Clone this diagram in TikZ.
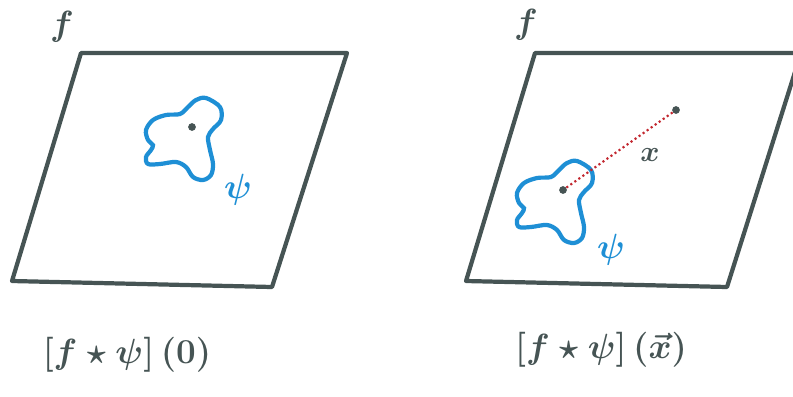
\documentclass[tikz,border=0pt]{standalone}
\usepackage{amsmath,amssymb}
\usepackage{xcolor}
\usetikzlibrary{positioning, calc}

\definecolor{slate}{HTML}{465454}
\definecolor{kernblue}{HTML}{1E8FD5}
\definecolor{pathred}{HTML}{C2262E}

\begin{document}
\begin{tikzpicture}[
    x=0.025cm, y=-0.025cm,
    plane/.style={draw=slate, line width=3pt, line join=round},
    blob/.style={draw=kernblue, line width=3pt},
    pt/.style={circle, fill=slate, inner sep=0pt, minimum size=5.5pt},
    lbl/.style={text=slate, font=\fontsize{26}{30}\selectfont\boldmath},
    psilbl/.style={text=kernblue, font=\fontsize{30}{34}\selectfont\boldmath},
    formula/.style={text=slate, font=\fontsize{30}{36}\selectfont\boldmath},
    track/.style={draw=pathred, dotted, line width=1.5pt}
  ]
    \useasboundingbox (0,0) rectangle (793,396);
    \clip (0,0) rectangle (793,396);

    % Left plane: kernel at the origin
    \draw[plane] (81,53) -- (347,53) -- (272,287) -- (12,281) -- cycle;
    \node[lbl] (fL) at (62,27) {$f$};
    \draw[blob, shift={(192,127)}] plot[smooth cycle, tension=0.55] coordinates {
      (14,-29) (28,-20) (29,-7) (21,2) (16,10) (18,23) (21,37) (19,48)
      (11,53) (1,50) (-6,40) (-16,35) (-32,37) (-44,37) (-46,30) (-41,23)
      (-39,18) (-44,13) (-46,3) (-39,-7) (-26,-12) (-12,-13) (-4,-20) (4,-27)};
    \node[pt] (oL) at (192,127) {};
    \node[psilbl] (psiL) at (238,190) {$\psi$};

    % Right plane: kernel shifted to x
    \draw[plane] (535,53) -- (801,53) -- (727,287) -- (466,281) -- cycle;
    \node[lbl] (fR) at (526,25) {$f$};
    \draw[blob, shift={(563,190)}] plot[smooth cycle, tension=0.55] coordinates {
      (14,-29) (28,-20) (29,-7) (21,2) (16,10) (18,23) (21,37) (19,48)
      (11,53) (1,50) (-6,40) (-16,35) (-32,37) (-44,37) (-46,30) (-41,23)
      (-39,18) (-44,13) (-46,3) (-39,-7) (-26,-12) (-12,-13) (-4,-20) (4,-27)};
    \node[pt] (oR) at (563,190) {};
    \node[pt] (xR) at (676,110) {};
    \node[psilbl] (psiR) at (611,250) {$\psi$};
    \node[text=slate, font=\fontsize{22}{26}\selectfont\boldmath] (xlbl) at (650,155) {$x$};
    \draw[track] (oR) -- (xR);

    % Convolution values
    \node[formula] (convL) at (127,355) {$[f \star \psi]\,(0)$};
    \node[formula] (convR) at (601,350) {$[f \star \psi]\,(\vec{x})$};
\end{tikzpicture}
\end{document}
